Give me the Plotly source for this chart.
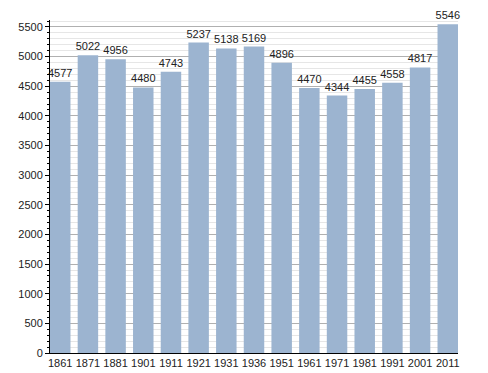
import plotly.graph_objects as go

years = ["1861", "1871", "1881", "1901", "1911", "1921", "1931", "1936",
         "1951", "1961", "1971", "1981", "1991", "2001", "2011"]
population = [4577, 5022, 4956, 4480, 4743, 5237, 5138, 5169,
              4896, 4470, 4344, 4455, 4558, 4817, 5546]
y_ticks = list(range(0, 5501, 500))

fig = go.Figure(go.Bar(
    x=years, y=population,
    marker=dict(color="#9cb4d0", line=dict(width=0)),
    text=[str(v) for v in population],
    textposition="outside",
    constraintext="none",
    textfont=dict(family="Liberation Sans, Arial", size=11, color="#222"),
    cliponaxis=False,
))

# page body has an 8px margin, so the figure is sized to fit the window
fig.update_layout(
    width=480, height=365,
    margin=dict(l=42, r=30, t=12, b=20, autoexpand=False),
    paper_bgcolor="white", plot_bgcolor="white",
    bargap=0.26,
    showlegend=False,
    font=dict(family="Liberation Sans, Arial", size=11, color="#222"),
)
fig.update_xaxes(
    type="category", range=[-0.37, 14.37],
    showline=True, linecolor="black", linewidth=1,
    ticks="", showgrid=False, automargin=False,
    tickfont=dict(size=11),
)
fig.update_yaxes(
    range=[0, 5618],
    tickvals=y_ticks,
    showline=True, linecolor="black", linewidth=1,
    ticks="outside", ticklen=4, tickcolor="black",
    showgrid=True, gridcolor="#b0b0b0", gridwidth=1,
    zeroline=False, automargin=False,
    minor=dict(dtick=100, ticks="outside", ticklen=2, tickcolor="black",
               showgrid=True, gridcolor="#e6e6e6", gridwidth=1),
    tickfont=dict(size=11),
)

fig.write_html("out.html")
